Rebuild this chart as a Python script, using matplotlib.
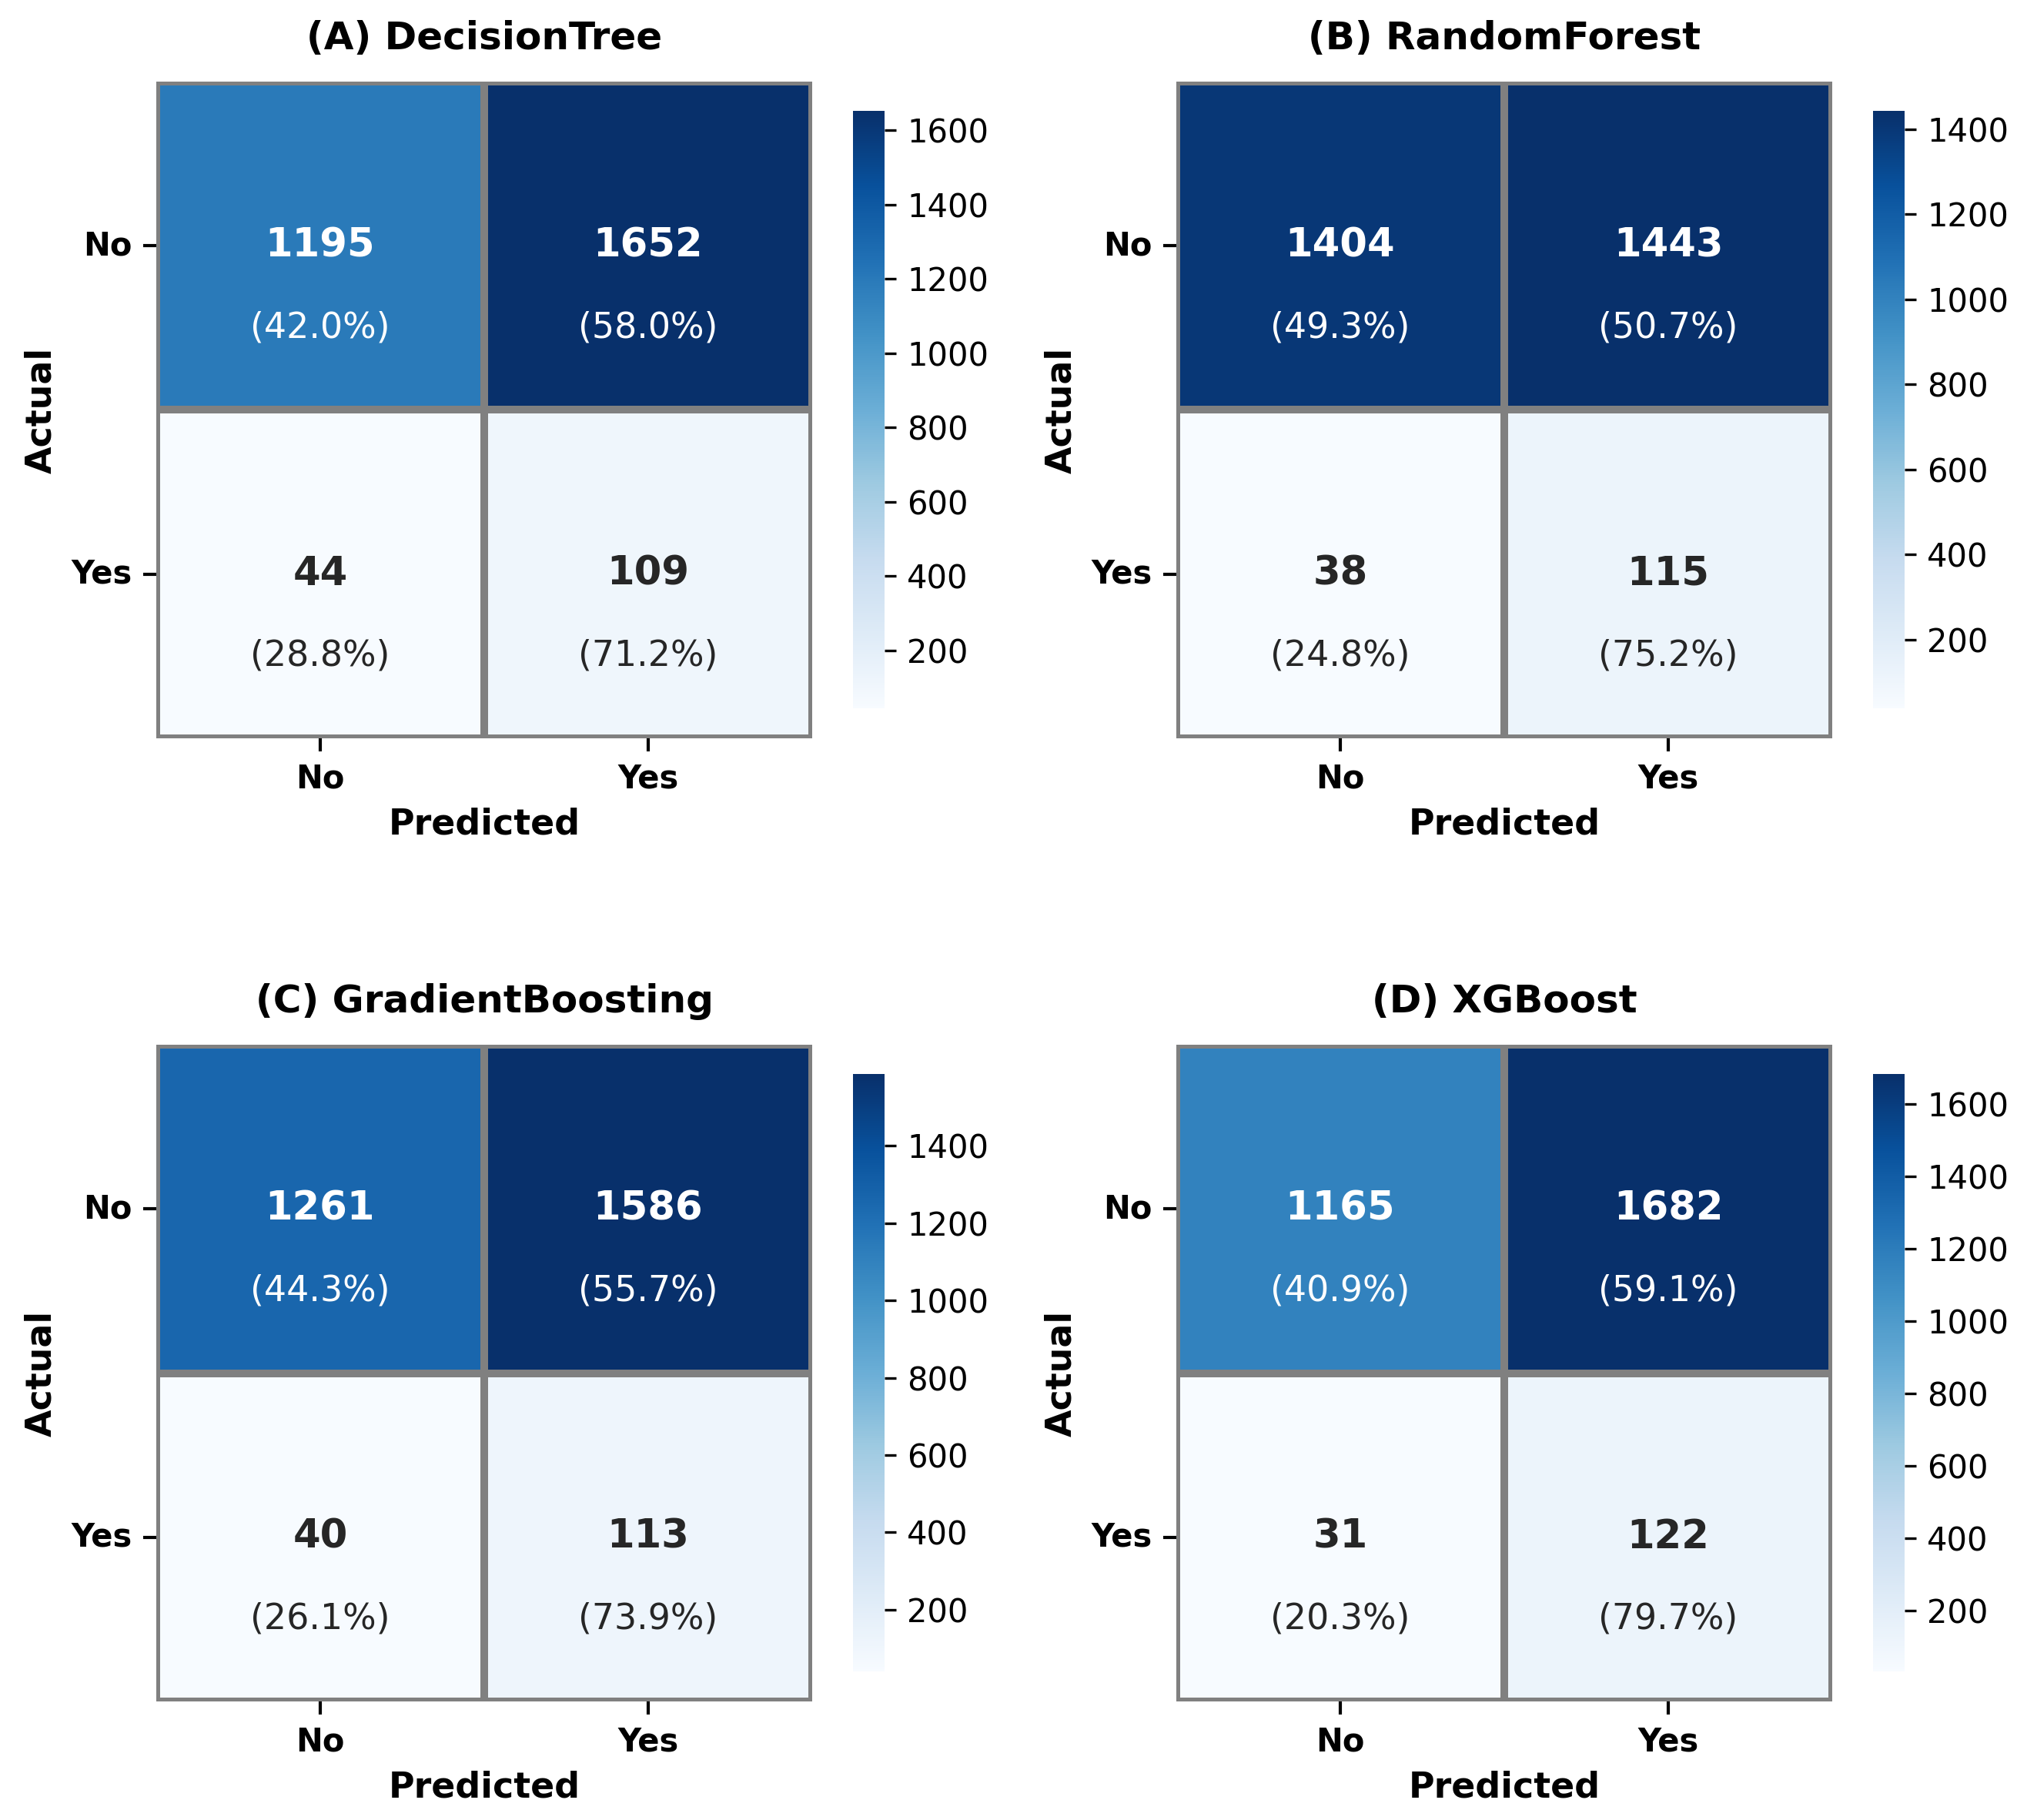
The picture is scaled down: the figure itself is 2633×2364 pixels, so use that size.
import numpy as np
import matplotlib
matplotlib.use("Agg")
import matplotlib.pyplot as plt
import seaborn as sns

plt.rcParams['font.family'] = ['DejaVu Sans']

titles = ["(A) DecisionTree", "(B) RandomForest", "(C) GradientBoosting", "(D) XGBoost"]
labels = ["No", "Yes"]
cm_dt = [[1195, 1652], [44, 109]]
cm_rf = [[1404, 1443], [38, 115]]
cm_gb = [[1261, 1586], [40, 113]]
cm_xgb = [[1165, 1682], [31, 122]]
matrices = [cm_dt, cm_rf, cm_gb, cm_xgb]

W, H = 2633, 2364
dpi = 300
fig = plt.figure(figsize=(W / dpi, H / dpi), dpi=dpi)

# pixel layout (left, top) for heatmaps
hm_left = [203, 1528]
hm_top = [106, 1357]
hm_w = 852
hm_h = 853
cb_dx = 1108 - 203
cb_w = 41
cb_dy = 144 - 106
cb_h = 776

def ax_px(x0, y0, w, h):
    return fig.add_axes([x0 / W, 1 - (y0 + h) / H, w / W, h / H])

for k, cm in enumerate(matrices):
    r, c = divmod(k, 2)
    x0 = hm_left[c]
    y0 = hm_top[r]
    ax = ax_px(x0, y0, hm_w, hm_h)
    cax = ax_px(x0 + cb_dx, y0 + cb_dy, cb_w, cb_h)
    arr = np.array(cm)
    vmin, vmax = arr.min(), arr.max()
    sns.heatmap(arr, ax=ax, cbar_ax=cax, cmap="Blues", annot=False,
                linewidths=2, linecolor="gray", vmin=vmin, vmax=vmax,
                xticklabels=labels, yticklabels=labels)
    norm = plt.Normalize(vmin, vmax)
    rowsum = arr.sum(axis=1)
    for i in range(2):
        for j in range(2):
            v = arr[i, j]
            col = "white" if norm(v) > 0.5 else "#262626"
            ax.text(j + 0.5, i + 0.5, f"{v}", ha="center", va="center",
                    fontsize=12.3, fontweight="bold", color=col)
            ax.text(j + 0.5, i + 0.75, f"({v / rowsum[i] * 100:.1f}%)",
                    ha="center", va="center", fontsize=11, color=col)
    ax.set_title(titles[k], fontsize=12, fontweight="bold", pad=10)
    ax.set_xlabel("Predicted", fontsize=11, fontweight="bold", labelpad=4)
    ax.set_ylabel("Actual", fontsize=11, fontweight="bold")
    ax.set_xticklabels(labels, fontsize=10, fontweight="bold", rotation=0)
    ax.set_yticklabels(labels, fontsize=10, fontweight="bold", rotation=0)
    ax.tick_params(axis="both", length=4, width=1)
    cax.tick_params(labelsize=10)
    cax.set_yticks(np.arange(200, vmax + 1, 200))

fig.savefig("out.png", dpi=dpi)
